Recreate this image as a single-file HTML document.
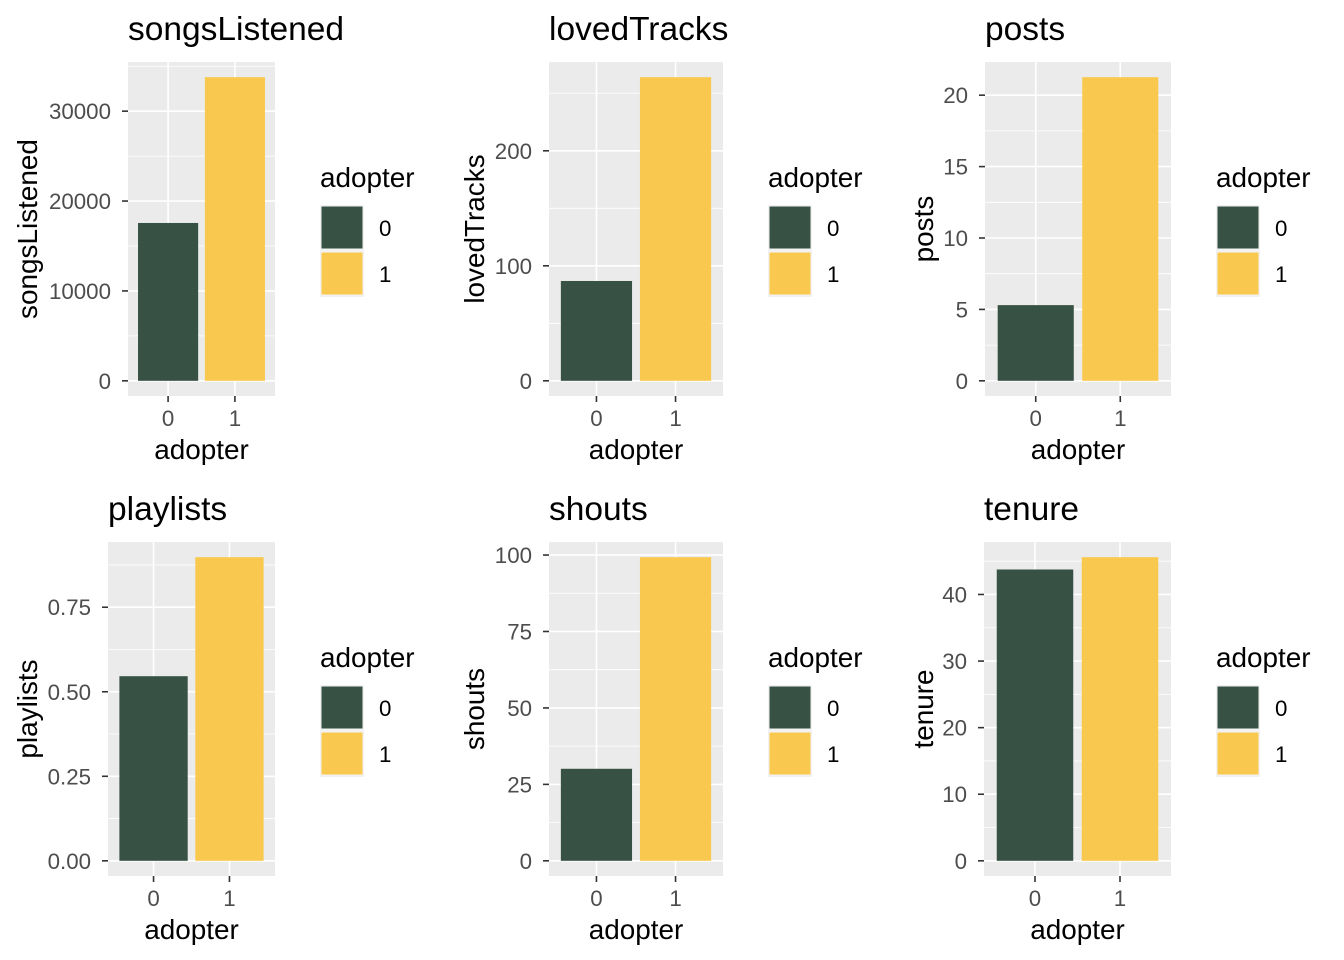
<!DOCTYPE html>
<html><head><meta charset="utf-8">
<style>
html,body{margin:0;padding:0;background:#fff;}
svg{display:block;font-family:"Liberation Sans",Arial,sans-serif;}
</style></head>
<body>
<svg id="chart" width="1344" height="960" viewBox="0 0 1344 960" xmlns="http://www.w3.org/2000/svg"></svg>
<script>
const panelTitles = ["songsListened","lovedTracks","posts","playlists","shouts","tenure"];
const categories = ["0","1"];
const values0 = [17560, 86.8, 5.3, 0.546, 30.1, 43.75];
const values1 = [33780, 264, 21.26, 0.898, 99.3, 45.6];
const tickValues = [[0,10000,20000,30000],[0,100,200],[0,5,10,15,20],[0,0.25,0.5,0.75],[0,25,50,75,100],[0,10,20,30,40]];
const tickLabels = [["0","10000","20000","30000"],["0","100","200"],["0","5","10","15","20"],["0.00","0.25","0.50","0.75"],["0","25","50","75","100"],["0","10","20","30","40"]];
const minorStep = [5000,50,2.5,0.125,12.5,5];

const colors = ["#375244","#f9c94f"];
const layout = [
  {l:128,r:275,t:62,b:396,lx:320,ytx:27},
  {l:549,r:723,t:62,b:396,lx:768,ytx:474},
  {l:985,r:1171,t:62,b:396,lx:1216,ytx:923},
  {l:108,r:275,t:542,b:876,lx:320,ytx:27},
  {l:549,r:723,t:542,b:876,lx:768,ytx:474},
  {l:984,r:1171,t:542,b:876,lx:1216,ytx:923}
];
const svg = document.getElementById('chart');
const NS = "http://www.w3.org/2000/svg";
function mk(tag, attrs, parent){
  const e = document.createElementNS(NS, tag);
  for (const k in attrs) e.setAttribute(k, attrs[k]);
  (parent||svg).appendChild(e);
  return e;
}
panelTitles.forEach((title, i) => {
  const L = layout[i];
  const g = mk('g', {});
  
  
  const vals = [values0[i], values1[i]];
  const vmax = Math.max(...vals);
  const lo = -0.05 * vmax, hi = 1.05 * vmax;
  const y = v => L.b - (v - lo) / (hi - lo) * (L.b - L.t);
  const unit = (L.r - L.l) / 2.2;
  const x = k => L.l + (0.6 + k) * unit;
  const bg = mk('rect', {x:L.l, y:L.t, width:L.r-L.l, height:L.b-L.t, fill:'#ebebeb'}, g);
  
  
  for (let v = minorStep[i]; v < hi; v += 2*minorStep[i]) {
    const yy = y(v);
    if (yy < L.t) continue;
    const ln = mk('line', {x1:L.l, x2:L.r, y1:yy, y2:yy, stroke:'#fff', 'stroke-width':0.8}, g);
    
    
  }
  tickValues[i].forEach((v, j) => {
    const yy = y(v);
    const ln = mk('line', {x1:L.l, x2:L.r, y1:yy, y2:yy, stroke:'#fff', 'stroke-width':1.6}, g);
    
    
    const tk = mk('line', {x1:L.l-6, x2:L.l, y1:yy, y2:yy, stroke:'#333', 'stroke-width':1.6}, g);
    
    
    const t = mk('text', {x:L.l-17, y:yy+8, 'text-anchor':'end', 'font-size':22.3, fill:'#4d4d4d'}, g);
    t.textContent = tickLabels[i][j];
    
    
  });
  categories.forEach((c, k) => {
    const xx = x(k);
    const ln = mk('line', {x1:xx, x2:xx, y1:L.t, y2:L.b, stroke:'#fff', 'stroke-width':1.6}, g);
    
    
    const tk = mk('line', {x1:xx, x2:xx, y1:L.b, y2:L.b+6, stroke:'#333', 'stroke-width':1.6}, g);
    
    
    const t = mk('text', {x:xx, y:L.b+30, 'text-anchor':'middle', 'font-size':22.3, fill:'#4d4d4d'}, g);
    t.textContent = c;
    
    
    const bw = 0.9 * unit;
    const b = mk('rect', {x:xx-bw/2, y:y(vals[k]), width:bw, height:y(0)-y(vals[k]), fill:colors[k]}, g);
    
    
  });
  const tt = mk('text', {x:L.l, y:L.t-22, 'font-size':33.5, fill:'#000'}, g);
  tt.textContent = title;
  
  
  const xt = mk('text', {x:(L.l+L.r)/2, y:L.b+63, 'text-anchor':'middle', 'font-size':27.9, fill:'#000'}, g);
  xt.textContent = 'adopter';
  
  
  const cy = (L.t+L.b)/2;
  const yt = mk('text', {x:L.ytx+10, y:cy, 'text-anchor':'middle', 'font-size':27.9, fill:'#000', transform:`rotate(-90 ${L.ytx+10} ${cy})`}, g);
  yt.textContent = title;
  
  
  const lg = mk('g', {}, g);
  
  
  const lt = mk('text', {x:L.lx, y:L.t+125, 'font-size':27.9, fill:'#000'}, lg);
  lt.textContent = 'adopter';
  
  
  categories.forEach((c, k) => {
    const ky = L.t + 143 + k*46;
    const kb = mk('rect', {x:L.lx, y:ky, width:44, height:46, fill:'#f2f2f2'}, lg);
    
    
    const kr = mk('rect', {x:L.lx+1.5, y:ky+1.5, width:41, height:42, fill:colors[k]}, lg);
    
    
    const kt = mk('text', {x:L.lx+59, y:ky+31, 'font-size':22.3, fill:'#000'}, lg);
    kt.textContent = c;
    
    
  });
});
</script>
</body></html>
